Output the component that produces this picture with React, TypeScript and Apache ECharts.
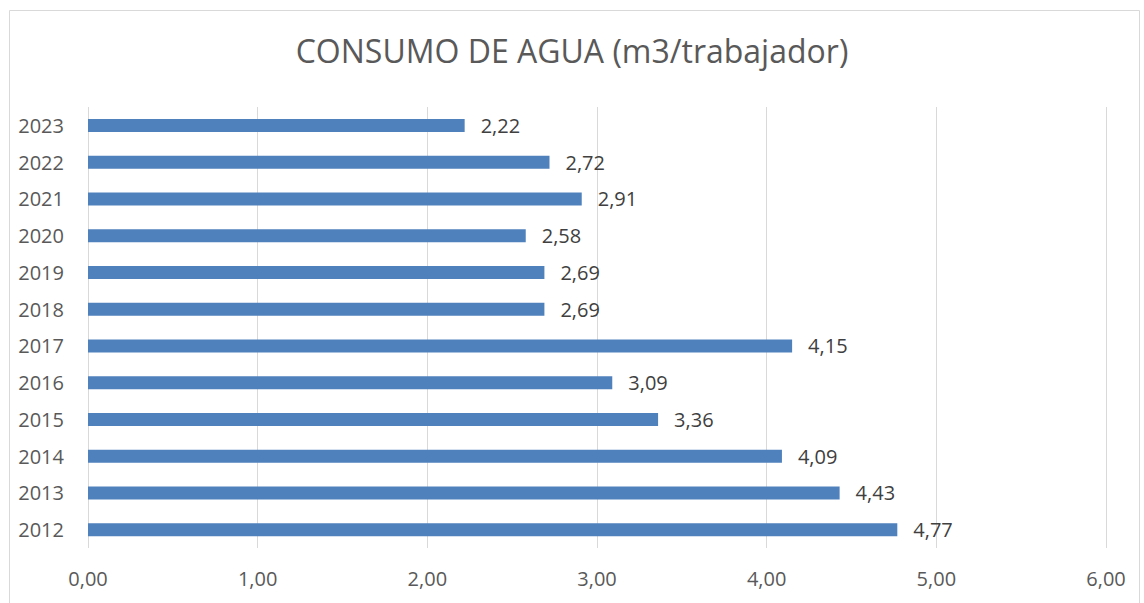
import React, { useEffect, useRef } from "react";
import * as echarts from "echarts";

const years = ["2012", "2013", "2014", "2015", "2016", "2017", "2018", "2019", "2020", "2021", "2022", "2023"];
const values = [4.77, 4.43, 4.09, 3.36, 3.09, 4.15, 2.69, 2.69, 2.58, 2.91, 2.72, 2.22];
const titleText = "CONSUMO DE AGUA (m3/trabajador)";

const fmt = (v: number) => v.toFixed(2).replace(".", ",");
const FONT = "'Open Sans', 'Liberation Sans', sans-serif";

export default function App() {
  const ref = useRef<HTMLDivElement>(null);
  useEffect(() => {
    document.body.style.margin = "0";
    const chart = echarts.init(ref.current!, undefined, { renderer: "svg" });
    chart.setOption({
      animation: false,
      backgroundColor: "#ffffff",
      title: {
        text: titleText,
        left: "center",
        top: 29,
        textStyle: { fontFamily: FONT, fontSize: 32, fontWeight: "normal", color: "#595959" },
      },
      graphic: [
        {
          type: "rect",
          shape: { x: 9.5, y: 10.5, width: 1130, height: 600 },
          style: { fill: "none", stroke: "#d9d9d9", lineWidth: 1 },
          silent: true,
        },
      ],
      grid: { left: 88, right: 38, top: 107, bottom: 55, containLabel: false },
      xAxis: {
        type: "value",
        min: 0,
        max: 6,
        interval: 1,
        axisLine: { show: false },
        axisTick: { show: false },
        splitLine: { show: true, lineStyle: { color: "#d9d9d9", width: 1 } },
        axisLabel: {
          formatter: (v: number) => fmt(v),
          fontFamily: FONT,
          fontSize: 20,
          color: "#595959",
          margin: 20,
        },
      },
      yAxis: {
        type: "category",
        data: years,
        axisLine: { show: false },
        axisTick: { show: false },
        axisLabel: { fontFamily: FONT, fontSize: 20, color: "#595959", margin: 24 },
      },
      series: [
        {
          type: "bar",
          data: values,
          barWidth: 13,
          itemStyle: { color: "#4f81bd" },
          label: {
            show: true,
            position: "right",
            distance: 16,
            formatter: (p: any) => fmt(p.value),
            fontFamily: FONT,
            fontSize: 20,
            color: "#404040",
          },
        },
      ],
    });
    return () => chart.dispose();
  }, []);
  return <div ref={ref} style={{ width: 1144, height: 603 }} />;
}
